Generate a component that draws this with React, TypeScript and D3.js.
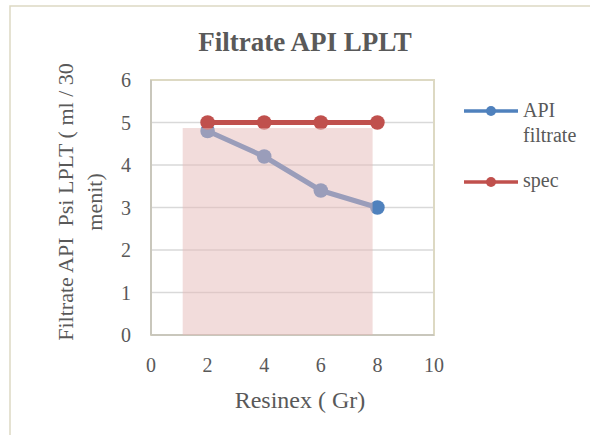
import React from 'react';
import * as d3 from 'd3';

// values
const resinex = [2, 4, 6, 8];
const apiFiltrate = [4.8, 4.2, 3.4, 3.0];
const spec = [5, 5, 5, 5];
const xTicks = [0, 2, 4, 6, 8, 10];
const yTicks = [0, 1, 2, 3, 4, 5, 6];
const shadeX = [1.12, 7.83];
const shadeTop = 4.87;

const FONT = '"Liberation Serif", "Times New Roman", serif';
const TEXT = '#595959';
const BLUE = '#4F81BD';
const RED = '#C0504D';

const W = 590;
const H = 435;
const plot = { left: 151, right: 434, top: 80, bottom: 335 };

const App = () => {
  const x = d3.scaleLinear().domain([0, 10]).range([plot.left, plot.right]);
  const y = d3.scaleLinear().domain([0, 6]).range([plot.bottom, plot.top]);

  const line = d3
    .line<number>()
    .x((_, i) => x(resinex[i]))
    .y((d) => y(d));

  const series = [
    { name: 'API filtrate', values: apiFiltrate, color: BLUE },
    { name: 'spec', values: spec, color: RED },
  ];

  return (
    <svg
      width={W}
      height={H}
      viewBox={`0 0 ${W} ${H}`}
      style={{ position: 'absolute', left: 0, top: 0, background: '#fff' }}
      fontFamily={FONT}
    >
      {/* outer chart border, runs off the right and bottom edges */}
      <rect x={10} y={6} width={W + 20} height={H + 20} fill="#fff" stroke="#DDD9C3" strokeWidth={1.5} />

      <text x={305} y={51} textAnchor="middle" fontSize={27} fontWeight="bold" fill={TEXT}>
        Filtrate API LPLT
      </text>

      {/* grid */}
      <g>
        {yTicks.slice(1, -1).map((t) => (
          <line key={t} x1={plot.left} x2={plot.right} y1={y(t)} y2={y(t)} stroke="#D9D9D9" strokeWidth={1.5} />
        ))}
      </g>
      <rect
        x={plot.left}
        y={plot.top}
        width={plot.right - plot.left}
        height={plot.bottom - plot.top}
        fill="none"
        stroke="#DDD9C3"
        strokeWidth={2}
      />
      <line x1={plot.left} x2={plot.left} y1={plot.top} y2={plot.bottom} stroke="#C9C7BC" strokeWidth={2} />
      <line x1={plot.left} x2={plot.right} y1={plot.bottom} y2={plot.bottom} stroke="#C9C7BC" strokeWidth={2} />

      {/* series */}
      {series.map((s) => (
        <g key={s.name}>
          <path d={line(s.values) || ''} fill="none" stroke={s.color} strokeWidth={5} strokeLinejoin="round" />
          {s.values.map((v, i) => (
            <circle key={i} cx={x(resinex[i])} cy={y(v)} r={7.3} fill={s.color} />
          ))}
        </g>
      ))}

      {/* shaded box drawn over the data */}
      <rect
        x={x(shadeX[0])}
        y={y(shadeTop)}
        width={x(shadeX[1]) - x(shadeX[0])}
        height={y(0) - y(shadeTop)}
        fill="#E6B9B8"
        fillOpacity={0.5}
      />

      {/* tick labels */}
      <g fontSize={20} fill={TEXT}>
        {yTicks.map((t) => (
          <text key={t} x={131} y={y(t) + 7} textAnchor="end">
            {t}
          </text>
        ))}
        {xTicks.map((t) => (
          <text key={t} x={x(t)} y={372} textAnchor="middle">
            {t}
          </text>
        ))}
      </g>

      {/* axis titles */}
      <text x={300} y={408} textAnchor="middle" fontSize={24} fill={TEXT}>
        Resinex ( Gr)
      </text>
      <g transform="translate(0, 202) rotate(-90)" fontSize={22} fill={TEXT}>
        <text x={0} y={73} textAnchor="middle" style={{ whiteSpace: 'pre' }}>
          {'Filtrate API  Psi LPLT ( ml / 30'}
        </text>
        <text x={0} y={102} textAnchor="middle">
          menit)
        </text>
      </g>

      {/* legend */}
      <g fontSize={20} fill={TEXT}>
        <line x1={464} x2={518} y1={111} y2={111} stroke={BLUE} strokeWidth={3.3} />
        <circle cx={491} cy={111} r={5} fill={BLUE} />
        <text x={523} y={117}>API</text>
        <text x={523} y={142}>filtrate</text>
        <line x1={464} x2={518} y1={182} y2={182} stroke={RED} strokeWidth={3.3} />
        <circle cx={491} cy={182} r={5} fill={RED} />
        <text x={523} y={187}>spec</text>
      </g>
    </svg>
  );
};

export default App;
